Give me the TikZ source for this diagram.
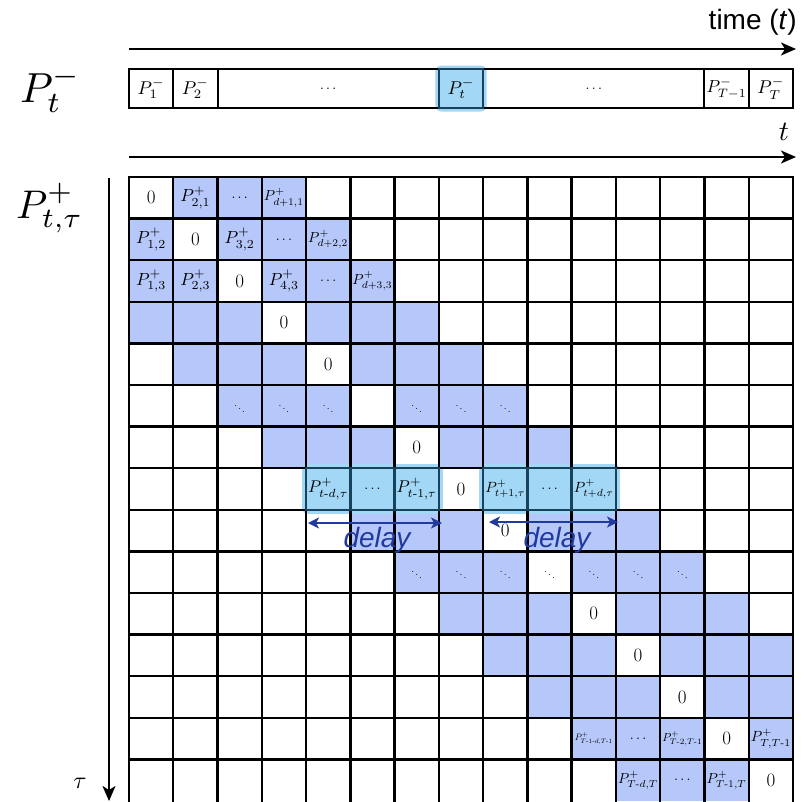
\RequirePackage{fix-cm}
\documentclass[tikz,border=0pt]{standalone}
\usepackage{amsmath}
\usepackage{graphicx}
\usepackage{fontspec}
\setsansfont{Liberation Sans}
\usetikzlibrary{arrows.meta,fit}

\definecolor{cellblue}{RGB}{182,200,250}
\definecolor{hlcyan}{RGB}{162,215,246}
\definecolor{hlteal}{RGB}{22,66,92}
\definecolor{delayblue}{RGB}{32,58,160}

\newsavebox{\labbox}
\newcommand{\fitlab}[2][40pt]{\sbox{\labbox}{#2}\ifdim\wd\labbox>#1\resizebox{#1}{!}{\usebox{\labbox}}\else\usebox{\labbox}\fi}
\newcommand{\pl}[2][40pt]{\fitlab[#1]{\scalebox{1.75}{$P^{+}_{#2}$}}}
\newcommand{\pb}[1]{\fitlab{\scalebox{1.85}{$P^{-}_{#1}$}}}
\newcommand{\el}{\scalebox{1.4}{$\ldots$}}
\newcommand{\hy}{\text{-}}

\tikzset{
 cell/.style={minimum width=44.267pt, minimum height=41.6pt, inner sep=0pt, outer sep=0pt, draw=none},
 gridline/.style={line width=2.4pt, black, line cap=rect},
 hlline/.style={line width=2.4pt, draw=hlteal, line cap=rect},
 hlbox/.style={fill=hlcyan, rounded corners=6pt, inner sep=4pt, draw=none},
 lab/.style={font=\fontsize{10}{12}\selectfont, inner sep=0pt},
 zlab/.style={font=\fontsize{19}{22}\selectfont, inner sep=0pt},
 dlab/.style={font=\fontsize{10}{12}\selectfont, inner sep=0pt},
 barcell/.style={minimum height=39pt, minimum width=44.267pt, inner sep=0pt, outer sep=0pt, draw=none, font=\fontsize{10}{12}\selectfont},
 barline/.style={line width=2pt, black},
 axisarrow/.style={line width=2pt, -{Stealth[length=15pt,width=13pt,inset=4pt]}},
 delayarrow/.style={line width=2pt, delayblue, {Stealth[length=11pt,width=11pt,inset=3pt]}-{Stealth[length=11pt,width=11pt,inset=3pt]}},
 delaytxt/.style={font=\sffamily\itshape\fontsize{28}{30}\selectfont, text=delayblue, inner sep=0pt, anchor=base},
}

\begin{document}
\begin{tikzpicture}[x=1pt,y=-1pt]
\useasboundingbox (0,0) rectangle (808,801);
\def\gx{129}\def\gy{177}\def\cw{44.267}\def\ch{41.6}

% ---- cells
\foreach \r in {0,...,14}{
 \foreach \c in {0,...,14}{
  \pgfmathtruncatemacro\dd{abs(\c-\r)}
  \ifnum\dd>0 \ifnum\dd<4 \def\cf{cellblue}\else\def\cf{white}\fi\else\def\cf{white}\fi
  \node[cell, fill=\cf] (c-\r-\c) at ({\gx+(\c+0.5)*\cw},{\gy+(\r+0.5)*\ch}) {};
 }
}

% ---- highlight boxes in row 7
\node[hlbox, fit=(c-7-4)(c-7-6)] (hl1) {};
\node[hlbox, fit=(c-7-8)(c-7-10)] (hl2) {};

% ---- grid lines
\foreach \c in {0,...,14}{
  \draw[gridline] (c-0-\c.north west) -- ([yshift=-6pt]c-14-\c.south west);
}
\draw[gridline] (c-0-14.north east) -- ([yshift=-6pt]c-14-14.south east);
\foreach \r in {0,...,14}{
  \draw[gridline] (c-\r-0.north west) -- (c-\r-14.north east);
}

% ---- teal borders inside highlights
\draw[hlline] (c-7-4.north west) rectangle (c-7-6.south east);
\draw[hlline] (c-7-5.north west) -- (c-7-5.south west);
\draw[hlline] (c-7-6.north west) -- (c-7-6.south west);
\draw[hlline] (c-7-8.north west) rectangle (c-7-10.south east);
\draw[hlline] (c-7-9.north west) -- (c-7-9.south west);
\draw[hlline] (c-7-10.north west) -- (c-7-10.south west);

% ---- labels
\node[zlab] (l-0-0) at (c-0-0) {0};
\node[lab] (l-0-1) at (c-0-1) {\pl{2,1}};
\node[lab] (l-0-2) at (c-0-2) {\el};
\node[lab] (l-0-3) at (c-0-3) {\pl{d+1,1}};

\node[lab] (l-1-0) at (c-1-0) {\pl{1,2}};
\node[zlab] (l-1-1) at (c-1-1) {0};
\node[lab] (l-1-2) at (c-1-2) {\pl{3,2}};
\node[lab] (l-1-3) at (c-1-3) {\el};
\node[lab] (l-1-4) at (c-1-4) {\pl{d+2,2}};

\node[lab] (l-2-0) at (c-2-0) {\pl{1,3}};
\node[lab] (l-2-1) at (c-2-1) {\pl{2,3}};
\node[zlab] (l-2-2) at (c-2-2) {0};
\node[lab] (l-2-3) at (c-2-3) {\pl{4,3}};
\node[lab] (l-2-4) at (c-2-4) {\el};
\node[lab] (l-2-5) at (c-2-5) {\pl{d+3,3}};

\node[zlab] (l-3-3) at (c-3-3) {0};
\node[zlab] (l-4-4) at (c-4-4) {0};
\foreach \c in {2,3,4,6,7,8}{\node[dlab] (l-5-\c) at (c-5-\c) {$\ddots$};}
\node[zlab] (l-6-6) at (c-6-6) {0};

\node[lab] (l-7-4) at (c-7-4) {\pl{t\hy d,\tau}};
\node[lab] (l-7-5) at (c-7-5) {\el};
\node[lab] (l-7-6) at (c-7-6) {\pl{t\hy 1,\tau}};
\node[zlab] (l-7-7) at (c-7-7) {0};
\node[lab] (l-7-8) at (c-7-8) {\pl{t+1,\tau}};
\node[lab] (l-7-9) at (c-7-9) {\el};
\node[lab] (l-7-10) at (c-7-10) {\pl{t+d,\tau}};

\node[zlab] (l-8-8) at (c-8-8) {0};
\foreach \c in {6,...,12}{\node[dlab] (l-9-\c) at (c-9-\c) {$\ddots$};}
\node[zlab] (l-10-10) at (c-10-10) {0};
\node[zlab] (l-11-11) at (c-11-11) {0};
\node[zlab] (l-12-12) at (c-12-12) {0};

\node[lab] (l-13-10) at (c-13-10) {\pl[38pt]{T\hy 1\hy d,T\hy 1}};
\node[lab] (l-13-11) at (c-13-11) {\el};
\node[lab] (l-13-12) at (c-13-12) {\pl{T\hy 2,T\hy 1}};
\node[zlab] (l-13-13) at (c-13-13) {0};
\node[lab] (l-13-14) at (c-13-14) {\pl{T,T\hy 1}};

\node[lab] (l-14-11) at (c-14-11) {\pl{T\hy d,T}};
\node[lab] (l-14-12) at (c-14-12) {\el};
\node[lab] (l-14-13) at (c-14-13) {\pl{T\hy 1,T}};
\node[zlab] (l-14-14) at (c-14-14) {0};

% ---- delay arrows
\coordinate (d1a) at (308,523);
\coordinate (d1b) at (442,523);
\coordinate (d2a) at (489,522);
\coordinate (d2b) at (618,522);
\draw[delayarrow] (d1a) -- (d1b);
\draw[delayarrow] (d2a) -- (d2b);
\node[delaytxt] (dt1) at (377,547) {delay};
\node[delaytxt] (dt2) at (557,547) {delay};

% ---- top bar
\node[barcell] (b1) at (151.13,88.5) {\pb{1}};
\node[barcell] (b2) at (195.40,88.5) {\pb{2}};
\node[barcell, minimum width=221.33pt] (bd1) at (328.20,88.5) {\el};
\node[barcell] (bt) at (461.00,88.5) {};
\node[barcell, minimum width=221.33pt] (bd2) at (593.80,88.5) {\el};
\node[barcell] (bT1) at (726.60,88.5) {\pb{T-1}};
\node[barcell] (bT) at (770.87,88.5) {\pb{T}};
\node[hlbox, fit=(bt), inner sep=3.5pt] (hlt) {};
\node[barcell] (btl) at (bt) {\pb{t}};
\foreach \n in {b1,b2,bd1,bd2,bT1,bT}{\draw[barline] (\n.north west) rectangle (\n.south east);}
\draw[barline, draw=hlteal] (bt.north west) rectangle (bt.south east);

% ---- axes
\coordinate (ta) at (129,49);
\coordinate (tb) at (796,49);
\draw[axisarrow] (ta) -- (tb);
\coordinate (sa) at (129,157);
\coordinate (sb) at (796,157);
\draw[axisarrow] (sa) -- (sb);
\coordinate (va) at (109,178);
\coordinate (vb) at (109,801);
\draw[axisarrow] (va) -- (vb);

\node[anchor=base east, inner sep=0pt, font=\sffamily\fontsize{28}{30}\selectfont] (time) at (797,29) {time (\textit{t})};
\node[inner sep=0pt, font=\fontsize{10}{12}\selectfont] (tlab) at (784,132) {\scalebox{2.8}{$t$}};
\node[inner sep=0pt, font=\fontsize{10}{12}\selectfont] (taulab) at (80,783) {\scalebox{2.4}{$\tau$}};
\node[anchor=base west, inner sep=0pt, font=\fontsize{10}{12}\selectfont] (pminus) at (20,102) {\scalebox{4.2}{$P_t^-$}};
\node[anchor=base west, inner sep=0pt, font=\fontsize{10}{12}\selectfont] (pplus) at (16,218) {\scalebox{4.0}{$P^+_{t,\tau}$}};
\end{tikzpicture}
\end{document}
